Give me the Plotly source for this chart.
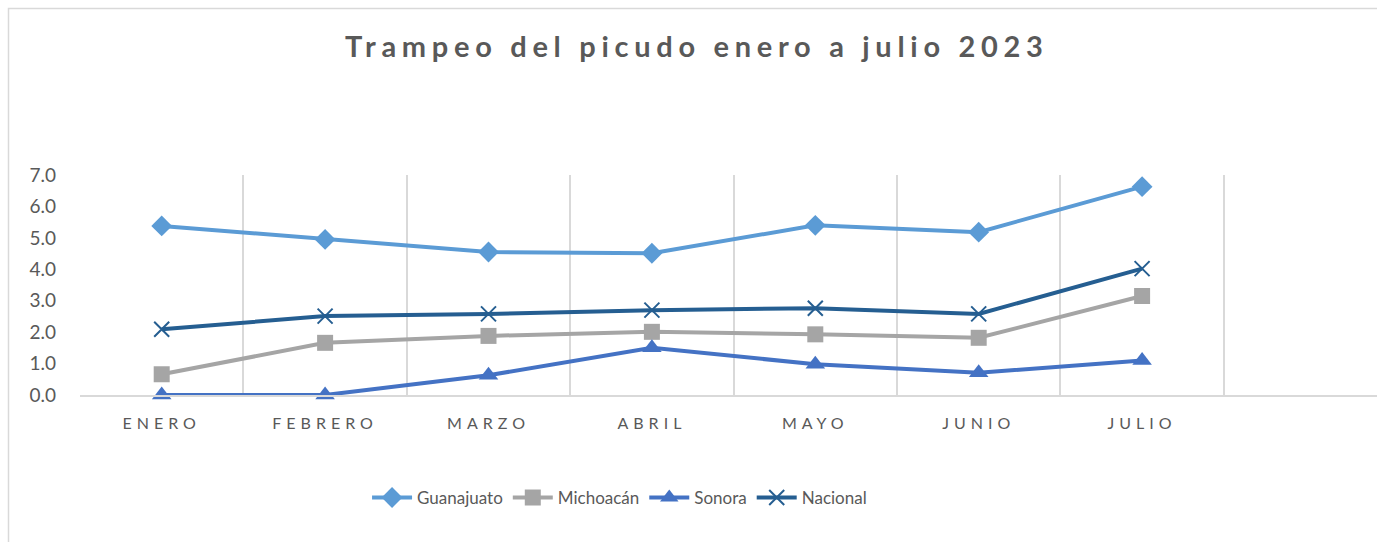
import plotly.graph_objects as go

categories = ["ENERO", "FEBRERO", "MARZO", "ABRIL", "MAYO", "JUNIO", "JULIO"]
guanajuato = [5.38, 4.95, 4.55, 4.51, 5.40, 5.18, 6.63]
michoacan = [0.66, 1.66, 1.88, 2.01, 1.93, 1.82, 3.15]
sonora = [0.0, 0.0, 0.63, 1.50, 0.98, 0.71, 1.10]
nacional = [2.09, 2.51, 2.58, 2.70, 2.76, 2.58, 4.02]
y_ticks = [0, 1, 2, 3, 4, 5, 6, 7]

series = [
    ("Guanajuato", guanajuato, "#5B9BD5", dict(symbol="diamond", size=16)),
    ("Michoacán", michoacan, "#A5A5A5", dict(symbol="square", size=16)),
    ("Sonora", sonora, "#4472C4", dict(symbol="triangle-up", size=17)),
    ("Nacional", nacional, "#255E91", dict(symbol="x-thin-open", size=15, line=dict(width=2, color="#255E91"))),
]

fig = go.Figure()
for name, vals, color, mk in series:
    m = dict(color=color, **mk)
    fig.add_trace(go.Scatter(
        x=categories, y=vals, name=name, mode="lines+markers",
        line=dict(color=color, width=4), marker=m, cliponaxis=False,
    ))

fig.update_layout(
    width=1377, height=542,
    margin=dict(l=80, r=0, t=175, b=147),
    paper_bgcolor="white", plot_bgcolor="white",
    font=dict(family="Lato", color="#595959"),
    title=dict(
        text="Trampeo del picudo enero a julio 2023",
        font=dict(family="Lato", size=29, weight=700, color="#595959"),
        x=0.506, xref="container", xanchor="center",
        y=1 - 47 / 542, yref="container", yanchor="middle",
    ),
    showlegend=True,
    legend=dict(
        orientation="h", x=0.416, xanchor="center", y=-0.468, yanchor="middle",
        font=dict(size=17, color="#595959"), itemwidth=40, traceorder="normal",
    ),
    xaxis=dict(
        type="category", categoryorder="array", categoryarray=categories,
        range=[-0.5, -0.5 + 1297 / 163.4],
        tickson="boundaries", showgrid=True, gridcolor="#D9D9D9", gridwidth=1.5,
        showline=True, linecolor="#D9D9D9", linewidth=1.5,
        ticks="", ticklabelstandoff=13, tickfont=dict(size=16, color="#595959"),
        zeroline=False,
    ),
    yaxis=dict(
        range=[0, 7], tickvals=y_ticks, tickformat=".1f",
        showgrid=False, zeroline=False, showline=False, ticks="",
        ticklabelstandoff=23, tickfont=dict(size=19, color="#595959"),
    ),
    shapes=[dict(
        type="rect", xref="paper", yref="paper",
        x0=(8.5 - 80) / 1297, x1=1.2, y0=-1.5, y1=(395 - 8.5) / 220,
        line=dict(color="#D9D9D9", width=1.5), fillcolor="rgba(0,0,0,0)", layer="below",
    )],
)

post = """
document.body.style.margin = '0';
document.body.style.overflow = 'hidden';
var gd = document.getElementById('{plot_id}');
function ls(){
  gd.querySelectorAll('.gtitle').forEach(function(e){e.style.letterSpacing='5.7px';});
  gd.querySelectorAll('.xtick text').forEach(function(e){e.style.letterSpacing='5px';});
}
ls();
if (gd.on) { gd.on('plotly_afterplot', ls); }
setTimeout(ls, 50);
"""

fig.write_html("out.html", post_script=post, config={"displayModeBar": False})
